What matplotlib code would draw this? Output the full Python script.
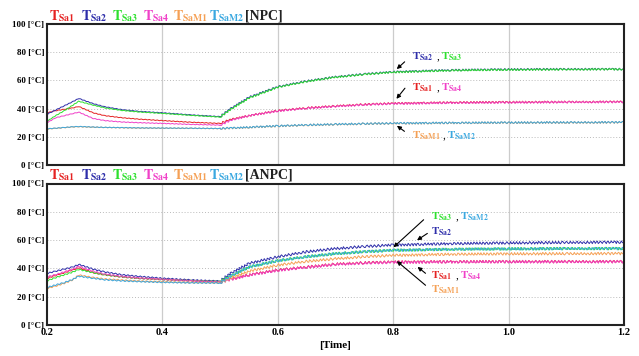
import matplotlib.pyplot as plt
import numpy as np

plt.rcParams['mathtext.fontset'] = 'stix'
plt.rcParams['font.family'] = 'Liberation Serif'

# time samples
t = [0.2, 0.215, 0.23, 0.245, 0.255, 0.28, 0.3, 0.33, 0.36, 0.4, 0.45, 0.5,
     0.52, 0.55, 0.6, 0.65, 0.7, 0.75, 0.8, 0.9, 1.0, 1.1, 1.2]

# NPC temperatures [C]
npc_sa1 = [37, 38.5, 39.5, 40.5, 41.5, 37, 35, 33.5, 32.5, 31.5, 30.3, 29.5,
           32.5, 35, 38.5, 40.5, 41.8, 43, 43.7, 44.3, 44.6, 44.7, 44.8]
npc_sa2 = [36, 39, 42, 45, 47.2, 43.5, 41.3, 39.2, 38, 37, 35.5, 34.3,
           40.5, 48, 55.5, 59.5, 62.5, 64.5, 66, 67.3, 67.8, 68, 68]
npc_sa3 = [31, 35, 38.5, 42.5, 45.2, 42.5, 40.5, 38.7, 37.6, 36.6, 35.2, 34,
           40, 47.5, 55.2, 59.3, 62.3, 64.3, 65.8, 67.1, 67.6, 67.8, 67.9]
npc_sa4 = [30, 33.5, 35, 36.5, 37.5, 33, 31.5, 30.5, 30, 29.5, 28.8, 28.3,
           32, 35, 38.3, 40.3, 41.6, 42.8, 43.5, 44.1, 44.4, 44.6, 44.7]
npc_sam1 = [25.5, 26, 26.5, 27, 27.2, 26.8, 26.6, 26.4, 26.2, 26.1, 26, 25.8,
            26.2, 26.7, 27.6, 28.3, 28.8, 29.2, 29.5, 29.8, 30, 30.1, 30.2]
npc_sam2 = [25.7, 26.1, 26.6, 27.1, 27.3, 26.9, 26.7, 26.5, 26.3, 26.2, 26.1, 25.9,
            26.3, 26.8, 27.7, 28.4, 28.9, 29.3, 29.6, 29.9, 30.1, 30.2, 30.3]

# ANPC temperatures [C]
anpc_sa1 = [33, 35, 37, 39, 40.5, 37, 35.5, 34, 33, 32.2, 31.3, 30.5,
            32.5, 35.5, 38.8, 41, 43, 44, 44.5, 44.7, 44.8, 44.8, 44.8]
anpc_sa2 = [36.5, 38, 39.5, 41, 42.8, 39.5, 37.5, 35.5, 34.3, 33, 31.8, 31,
            37, 43.5, 48.2, 51.8, 54, 55.5, 56.5, 57.5, 58, 58.3, 58.5]
anpc_sa3 = [31.3, 33.5, 35.5, 37.5, 39.3, 37, 35.5, 34, 33, 32.2, 31.3, 30.8,
            35, 41, 45.4, 48.3, 50.4, 51.8, 52.8, 53.5, 53.8, 54, 54]
anpc_sa4 = [34, 35.5, 37.5, 39.5, 41.5, 38, 36, 34.3, 33.2, 32.3, 31.2, 30.5,
            32.3, 35.3, 38.6, 40.8, 42.8, 43.8, 44.3, 44.6, 44.7, 44.7, 44.7]
anpc_sam1 = [25.9, 27.5, 29.5, 32, 35.3, 33.5, 32.5, 31.7, 31, 30.5, 30, 29.8,
             33.5, 38, 42.3, 45, 46.8, 48.3, 49.2, 50, 50.3, 50.4, 50.5]
anpc_sam2 = [26.5, 28.3, 30, 32.3, 34.5, 33, 32, 31.2, 30.7, 30.2, 29.8, 29.7,
             35, 41, 45.4, 48.3, 50.4, 51.8, 52.8, 53.5, 53.8, 54, 54]

names = ['Sa1', 'Sa2', 'Sa3', 'Sa4', 'SaM1', 'SaM2']
colors = ['#e52222', '#2e2eaa', '#2ee02e', '#f040c8', '#f5a055', '#3aa8e0']
yticks = [0, 20, 40, 60, 80, 100]
xticks = [0.2, 0.4, 0.6, 0.8, 1.0, 1.2]

W, H = 639, 356
fig = plt.figure(figsize=(W / 100, H / 100), dpi=100)


def lab(n):
    return r'$\mathbf{T}_{\mathbf{%s}}$' % n


def px2t(x):
    return 0.2 + (x - 47) / 577.5


ax1 = fig.add_axes([47 / W, 1 - 165 / H, 577 / W, 141 / H])
ax2 = fig.add_axes([47 / W, 1 - 325 / H, 577 / W, 141.5 / H])

panels = [(ax1, [npc_sa1, npc_sa2, npc_sa3, npc_sa4, npc_sam1, npc_sam2], 0.3, 0.9),
          (ax2, [anpc_sa1, anpc_sa2, anpc_sa3, anpc_sa4, anpc_sam1, anpc_sam2], 0.6, 1.3)]

tt = np.array(t)
early = tt <= 0.5
late = tt >= 0.5
for ax, series, amp0, amp1 in panels:
    for v, c in zip(series, colors):
        v = np.array(v)
        ln, = ax.plot(tt[early], v[early], color=c, lw=0.7)
        ln.set_sketch_params(scale=amp0, length=4, randomness=1)
        ln, = ax.plot(tt[late], v[late], color=c, lw=0.7)
        ln.set_sketch_params(scale=amp1, length=3.5, randomness=1.5)
    ax.set_xlim(0.2, 1.2)
    ax.set_ylim(0, 100)
    ax.set_yticks(yticks)
    ax.set_yticklabels(['%d [°C]' % y for y in yticks], fontsize=6.5, fontweight='bold')
    ax.set_xticks(xticks)
    for x in xticks[1:-1]:
        ax.axvline(x, color='#cccccc', lw=0.9, zorder=0)
    for y in yticks[1:-1]:
        ax.axhline(y, color='#bbbbbb', lw=0.7, ls=(0, (1, 2)), zorder=0)
    ax.tick_params(length=0, pad=2)
    for s in ax.spines.values():
        s.set_linewidth(1.5)
        s.set_color('#222222')

ax1.set_xticklabels([])
ax2.set_xticklabels(['%.1f' % x for x in xticks], fontsize=7.5, fontweight='bold')
ax2.set_xlabel('[Time]', fontsize=8, fontweight='bold', labelpad=3)

# colored legend rows above each panel
leg_x = [49, 81, 112, 143, 173, 209]
for yc, tag in [(16, '[NPC]'), (175, '[ANPC]')]:
    for x, n, c in zip(leg_x, names, colors):
        fig.text(x / W, 1 - yc / H, lab(n), color=c, fontsize=10, va='center')
    fig.text(245 / W, 1 - yc / H, tag, color='#222222', fontsize=10,
             fontweight='bold', va='center')

arr = dict(arrowstyle='-|>', color='black', lw=0.8, mutation_scale=6)


def note(ax, parts, x, y):
    for dx, txt, c in parts:
        ax.text(px2t(x + dx), y, txt, color=c, fontsize=8, va='center')


# NPC annotations
ax1.annotate('', xy=(px2t(395), 66.7), xytext=(px2t(407), 74.5), arrowprops=arr)
note(ax1, [(0, lab('Sa2'), colors[1]), (25, ',', 'black'), (29, lab('Sa3'), colors[2])], 412, 76.6)
ax1.annotate('', xy=(px2t(395), 45.4), xytext=(px2t(407), 56), arrowprops=arr)
note(ax1, [(0, lab('Sa1'), colors[0]), (25, ',', 'black'), (29, lab('Sa4'), colors[3])], 412, 54.6)
ax1.annotate('', xy=(px2t(395), 29), xytext=(px2t(407), 22.7), arrowprops=arr)
note(ax1, [(0, lab('SaM1'), colors[4]), (31, ',', 'black'), (35, lab('SaM2'), colors[5])], 412, 20.6)

# ANPC annotations
ax2.annotate('', xy=(px2t(391.7), 53.6), xytext=(px2t(426), 75.7), arrowprops=arr)
note(ax2, [(0, lab('Sa3'), colors[2]), (25, ',', 'black'), (29, lab('SaM2'), colors[5])], 431, 76.4)
ax2.annotate('', xy=(px2t(415), 58.8), xytext=(px2t(430), 65.8), arrowprops=arr)
note(ax2, [(0, lab('Sa2'), colors[1])], 431, 65.8)
ax2.annotate('', xy=(px2t(415.7), 42.3), xytext=(px2t(428), 35.3), arrowprops=arr)
note(ax2, [(0, lab('Sa1'), colors[0]), (25, ',', 'black'), (29, lab('Sa4'), colors[3])], 431, 34.6)
ax2.annotate('', xy=(px2t(395), 46.4), xytext=(px2t(428), 26.8), arrowprops=arr)
note(ax2, [(0, lab('SaM1'), colors[4])], 431, 24.6)

fig.savefig('out.png', dpi=100)
